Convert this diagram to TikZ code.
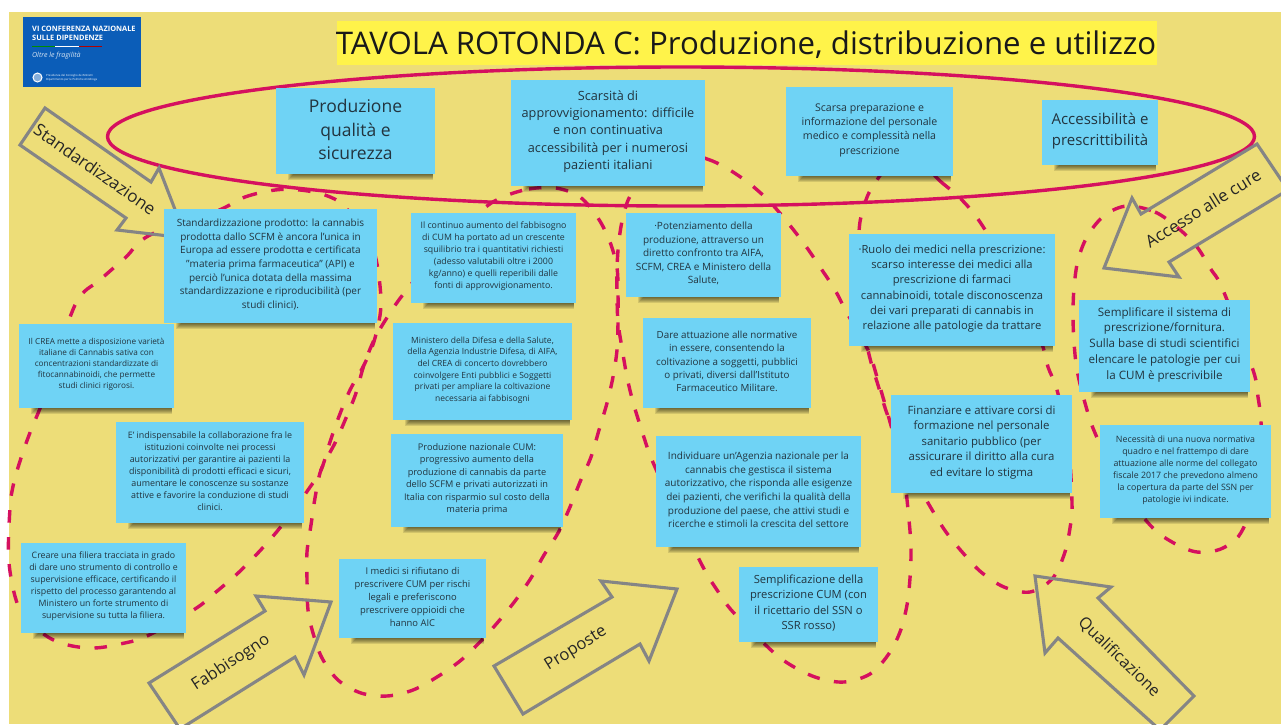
\documentclass[tikz,border=0pt]{standalone}
\usepackage{fontspec}
\setmainfont{Open Sans}
\definecolor{bgyellow}{HTML}{EDDD78}
\definecolor{titleyellow}{HTML}{FFF34A}
\definecolor{noteblue}{HTML}{6FD3F5}
\definecolor{noteink}{HTML}{22343F}
\definecolor{crimson}{HTML}{D5105F}
\definecolor{arrowgray}{HTML}{858585}
\definecolor{logoblue}{HTML}{0B5DB8}
\tikzset{
  loopline/.style={draw=crimson,line width=3.4pt,dash pattern=on 12.5pt off 14.5pt},
  ringline/.style={draw=crimson,line width=3.4pt},
  bigarrow/.style={draw=arrowgray,line width=3.1pt,miter limit=10,line join=miter},
  arrowlabel/.style={text=black!85,inner sep=0pt},
  notebox/.style={fill=noteblue,inner sep=0pt},
  notetext/.style={text=noteink,inner sep=0pt,align=center},
  logotext/.style={text=white,anchor=west,inner sep=0pt,align=left}
}
\newcommand{\postit}[7]{%
  \pgfmathsetmacro{\pcx}{(#2+#4)/2}%
  \pgfmathsetmacro{\pcy}{(#3+#5)/2}%
  \pgfmathsetmacro{\ptxy}{(#3+#5)/2-1.5}%
  \pgfmathsetmacro{\pwd}{#4-#2}%
  \pgfmathsetmacro{\pht}{#5-#3}%
  \pgfmathsetmacro{\plead}{#6*1.36}%
  \foreach \i in {1,...,6}{%
    \fill[black,opacity=.11] ({#2+18-\i},{#5-1}) rectangle ({#4-2},{#5+\i});
  }%
  \node[notebox,minimum width=\pwd pt,minimum height=\pht pt] (#1) at (\pcx,\pcy) {};%
  \node[notetext,font=\fontsize{#6}{\plead}\selectfont] (#1text) at (\pcx,\ptxy) {#7};%
}
\begin{document}
\begin{tikzpicture}[x=1pt,y=-1pt]
\useasboundingbox (0,0) rectangle (1281,724);
\clip (0,0) rectangle (1281,724);
\fill[white] (0,0) rectangle (1281,724);
\fill[bgyellow] (9,12) rectangle (1281,724);

% dashed loops
\draw[loopline] plot[smooth cycle,tension=.55] coordinates {
 (217,211) (245,197) (275,190) (300,190) (325,195) (345,207) (372,245) (381,300) (375,338) (364,365) (350,390) (338,419) (329,445) (321,470) (308,490) (290,515) (274,535) (256,555) (237,574) (216,592) (195,609) (147,636) (120,644) (94,648) (68,645) (45,635) (20,610) (9,563) (10,508) (14,482) (22,455) (31,430) (45,395) (75,305) (100,280) (125,258) (150,235)};
\draw[loopline] plot[smooth cycle,tension=.55] coordinates {
 (503,197) (529,189) (556,188) (580,197) (598,218) (610,242) (617,268) (618,295) (618,322) (617,350) (613,377) (607,403) (599,430) (591,457) (580,482) (570,507) (558,533) (544,555) (531,578) (515,601) (498,622) (479,643) (460,661) (437,677) (413,690) (387,696) (361,693) (338,680) (322,658) (313,633) (308,610) (307,580) (307,552) (311,525) (315,498) (321,470) (335,443) (346,418) (356,393) (364,365) (375,338) (390,313) (405,292) (440,250) (482,210)};
\draw[loopline] plot[smooth cycle,tension=.55] coordinates {
 (670,150) (707,159) (728,169) (750,184) (770,202) (788,223) (805,245) (820,267) (835,290) (847,313) (868,350) (877,377) (890,422) (903,470) (909,520) (911,550) (910,578) (907,605) (900,632) (888,655) (870,674) (844,682) (818,678) (794,667) (772,651) (733,612) (717,590) (703,567) (675,510) (652,460) (641,428) (633,402) (627,377) (622,348) (618,322) (617,295) (617,268) (619,240) (624,213) (634,190)};
\draw[loopline] plot[smooth cycle,tension=.55] coordinates {
 (905,150) (940,181) (960,198) (980,222) (1010,272) (1032,318) (1043,347) (1048,367) (1057,390) (1068,440) (1072,503) (1070,528) (1064,555) (1052,579) (1030,592) (1004,587) (981,572) (963,553) (946,532) (931,508) (910,470) (890,422) (878,385) (868,350) (858,290) (859,232) (863,210) (873,186)};
\draw[loopline] plot[smooth cycle,tension=.55] coordinates {
 (1127,206) (1155,212) (1178,228) (1197,247) (1210,268) (1223,290) (1253,370) (1258,397) (1261,422) (1262,470) (1243,529) (1223,548) (1197,552) (1172,542) (1150,525) (1120,485) (1095,433) (1085,403) (1077,370) (1074,342) (1073,315) (1074,288) (1078,260) (1088,235) (1105,215)};

% top ring
\draw[ringline] (681,136.5) ellipse [x radius=573.5,y radius=69.5];

% title and logo
\node[fill=titleyellow,minimum width=820pt,minimum height=44pt,inner sep=0pt] (titlebar) at (747,43) {};
\node[inner sep=0pt,text=black!90,font=\fontsize{31.2}{36}\selectfont] (title) at (746,45) {TAVOLA ROTONDA C: Produzione, distribuzione e utilizzo};
\node[fill=logoblue,minimum width=118pt,minimum height=70pt,inner sep=0pt] (logo) at (82,52) {};
\node[logotext,font=\bfseries\fontsize{7.4}{8.8}\selectfont] (logohead) at (32,33.5) {VI CONFERENZA NAZIONALE\\SULLE DIPENDENZE};
\fill[green!55!black] (32,45.6) rectangle (55,47);
\fill[white] (55,45.6) rectangle (79,47);
\fill[red!70!black] (79,45.6) rectangle (102,47);
\node[logotext,font=\itshape\fontsize{7}{8}\selectfont,text=white!85!logoblue] (logosub) at (32,56) {Oltre le fragilità};
\node[draw=white,line width=1pt,circle,minimum size=9pt,inner sep=0pt,fill=white!50!logoblue] (emblem) at (37.5,77.5) {};
\node[logotext,font=\fontsize{2.8}{3.7}\selectfont] (logofoot) at (46,77.5) {Presidenza del Consiglio dei Ministri\\Dipartimento per le Politiche Antidroga};

% big arrows
\draw[bigarrow] (45,108) -- (151,182) -- (159,168) -- (186,238) -- (117,230) -- (126,218) -- (20,145) -- cycle;
\draw[bigarrow] (149,683) -- (265,611) -- (256,596) -- (331,602) -- (304,675) -- (295,657) -- (180,729) -- cycle;
\draw[bigarrow] (494,666) -- (612,597) -- (601,581) -- (677,589) -- (649,661) -- (640,644) -- (523,714) -- cycle;
\draw[bigarrow] (1035,576) -- (1111,587) -- (1098,598) -- (1194,696) -- (1160,730) -- (1058,638) -- (1045,653) -- cycle;
\draw[bigarrow] (1257,144) -- (1141,214) -- (1132,198) -- (1104,268) -- (1179,277) -- (1169,262) -- (1288,190) -- cycle;

% notes
\postit{prod}{276}{88}{435}{174}{17.5}{Produzione\\qualità e\\sicurezza}
\postit{scars}{511}{80}{705}{186}{12.7}{Scarsità di\\approvvigionamento: difficile\\e non continuativa\\accessibilità per i numerosi\\pazienti italiani}
\postit{prep}{786}{87}{953}{176}{10.6}{Scarsa preparazione e\\informazione del personale\\medico e complessità nella\\prescrizione}
\postit{acces}{1042}{100}{1158}{165}{15}{Accessibilità e\\prescrittibilità}
\postit{stand}{164}{209}{377}{323}{10}{Standardizzazione prodotto: la cannabis\\prodotta dallo SCFM è ancora l’unica in\\Europa ad essere prodotta e certificata\\"materia prima farmaceutica" (API) e\\perciò l’unica dotata della massima\\standardizzazione e riproducibilità (per\\studi clinici).}
\postit{cont}{411}{213}{576}{303}{8.8}{Il continuo aumento del fabbisogno\\di CUM ha portato ad un crescente\\squilibrio tra i quantitativi richiesti\\(adesso valutabili oltre i 2000\\kg/anno) e quelli reperibili dalle\\fonti di approvvigionamento.}
\postit{poten}{626}{213}{781}{297}{10}{·Potenziamento della\\produzione, attraverso un\\diretto confronto tra AIFA,\\SCFM, CREA e Ministero della\\Salute,}
\postit{ruolo}{849}{234}{1055}{346}{11.2}{·Ruolo dei medici nella prescrizione:\\scarso interesse dei medici alla\\prescrizione di farmaci\\cannabinoidi, totale disconoscenza\\dei vari preparati di cannabis in\\relazione alle patologie da trattare}
\postit{sempl}{1079}{300}{1250}{392}{11.6}{Semplificare il sistema di\\prescrizione/fornitura.\\Sulla base di studi scientifici\\elencare le patologie per cui\\la CUM è prescrivibile}
\postit{crea}{19}{324}{174}{408}{8.2}{Il CREA mette a disposizione varietà\\italiane di Cannabis sativa  con\\concentrazioni standardizzate di\\fitocannabinoidi, che permette\\studi clinici rigorosi.}
\postit{minis}{393}{323}{572}{420}{8.5}{Ministero della Difesa e della Salute,\\della Agenzia Industrie Difesa, di AIFA,\\del CREA  di concerto dovrebbero\\coinvolgere  Enti pubblici e Soggetti\\privati per ampliare la coltivazione\\necessaria ai fabbisogni}
\postit{dare}{643}{318}{811}{408}{9.8}{Dare attuazione alle normative\\in essere, consentendo la\\coltivazione a soggetti, pubblici\\o privati, diversi dall’Istituto\\Farmaceutico Militare.}
\postit{indis}{116}{422}{304}{523}{8.9}{E’ indispensabile la  collaborazione fra le\\istituzioni coinvolte nei processi\\autorizzativi per garantire ai pazienti la\\disponibilità di prodotti efficaci e sicuri,\\aumentare le conoscenze su sostanze\\attive e favorire la conduzione di studi\\clinici.}
\postit{nazio}{391}{434}{563}{527}{9.2}{Produzione nazionale CUM:\\progressivo aumento della\\produzione di cannabis da parte\\dello SCFM e privati autorizzati in\\Italia con risparmio sul costo della\\materia prima}
\postit{indiv}{656}{436}{861}{547}{10}{Individuare un’Agenzia nazionale per la\\cannabis  che gestisca il sistema\\autorizzativo, che risponda alle esigenze\\dei pazienti, che verifichi la qualità della\\produzione del paese, che attivi studi e\\ricerche e stimoli la crescita del settore}
\postit{finan}{891}{395}{1072}{493}{11.4}{Finanziare e attivare corsi di\\formazione nel personale\\sanitario pubblico (per\\assicurare il diritto alla cura\\ed evitare lo stigma}
\postit{neces}{1100}{425}{1271}{518}{8.8}{Necessità di una nuova normativa\\quadro e nel frattempo di dare\\attuazione alle norme del collegato\\fiscale 2017 che prevedono almeno\\la copertura da parte del SSN per\\patologie ivi indicate.}
\postit{filie}{21}{543}{186}{633}{8.8}{Creare una filiera tracciata in grado\\di dare uno strumento di controllo e\\supervisione efficace, certificando il\\rispetto del processo  garantendo al\\Ministero un forte strumento di\\supervisione su tutta la filiera.}
\postit{medic}{339}{559}{486}{638}{9.4}{I medici si rifiutano di\\prescrivere CUM per rischi\\legali e preferiscono\\prescrivere oppioidi che\\hanno AIC}
\postit{ricet}{739}{567}{878}{642}{11.2}{Semplificazione della\\prescrizione CUM (con\\il ricettario del SSN o\\SSR rosso)}

% arrow labels
\node[arrowlabel,rotate=-35,font=\fontsize{17}{20}\selectfont] (labstand) at (95,169) {Standardizzazione};
\node[arrowlabel,rotate=33,font=\fontsize{16.5}{20}\selectfont] (labfabb) at (231,663) {Fabbisogno};
\node[arrowlabel,rotate=32,font=\fontsize{16.5}{20}\selectfont] (labprop) at (576,649) {Proposte};
\node[arrowlabel,rotate=-44,font=\fontsize{16.2}{20}\selectfont] (labqual) at (1119,657) {Qualificazione};
\node[arrowlabel,rotate=32,font=\fontsize{16.8}{20}\selectfont] (labacc) at (1203,208) {Accesso alle cure};
\end{tikzpicture}
\end{document}
